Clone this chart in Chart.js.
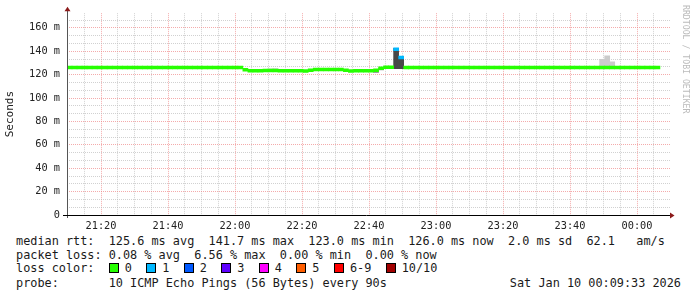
<!DOCTYPE html>
<html>
<head>
<meta charset="utf-8">
<script src="https://cdn.jsdelivr.net/npm/chart.js@4.4.1/dist/chart.umd.min.js"></script>
<style>
    html, body { margin: 0; padding: 0; background: #fff; }
    #wrap { position: relative; width: 697px; height: 297px; overflow: hidden; font-family: 'DejaVu Sans Mono', monospace; color: #1a1a1a; }
    #chart { position: absolute; left: 0; top: 0; }
    .row { position: absolute; left: 16px; font-size: 11.85px; line-height: 14px; white-space: pre; }
    .row.loss { display: flex; align-items: center; }
    .box { display: inline-block; width: 8px; height: 8px; border: 1px solid #000; }
    .lbl { margin-left: 6px; margin-right: 14.4px; }
    #date { position: absolute; right: 16px; top: 276px; font-size: 11.85px; line-height: 14px; white-space: pre; }
    #mark { position: absolute; left: 681px; top: 5px; writing-mode: vertical-rl; font-size: 8.2px; color: #bbb; white-space: pre; }
</style>
</head>
<body>
<div id="wrap">
    <canvas id="chart" width="697" height="232"></canvas>
    <div class="row" style="top:234px">median rtt:  125.6 ms avg  141.7 ms max  123.0 ms min  126.0 ms now  2.0 ms sd  62.1   am/s</div>
    <div class="row" style="top:248px">packet loss: 0.08 % avg  6.56 % max  0.00 % min  0.00 % now</div>
    <div class="row loss" id="loss-legend" style="top:261px"><span>loss color:  </span></div>
    <div class="row" style="top:276px">probe:       10 ICMP Echo Pings (56 Bytes) every 90s</div>
    <div id="date">Sat Jan 10 00:09:33 2026</div>
    <div id="mark">RRDTOOL / TOBI OETIKER</div>
</div>
<script>
// time axis: minutes since midnight, one sample every 90s
const startMinute = 21 * 60 + 9.85
const endMinute = startMinute + 180
const stepMinutes = 1.5

// median rtt per 90s step (ms)
const median = [
    126.0, 126.0, 126.0, 126.0, 126.0, 126.0, 126.0, 126.0, 126.0, 126.0,
    126.0, 126.0, 126.0, 126.0, 126.0, 126.0, 126.0, 126.0, 126.0, 126.0,
    126.0, 126.0, 126.0, 126.0, 126.0, 126.0, 126.0, 126.0, 126.0, 126.0,
    126.0, 126.0, 126.0, 126.0, 126.0, 124.2, 123.3, 123.3, 123.3, 123.5,
    123.5, 123.5, 123.3, 123.3, 123.3, 123.3, 123.3, 123.0, 123.8, 124.4,
    124.4, 124.4, 124.4, 124.4, 124.4, 123.8, 123.0, 123.3, 123.3, 123.3,
    123.3, 123.8, 125.5, 126.2, 126.2, 141.7, 134.6, 126.0, 126.0, 126.0,
    126.0, 126.0, 126.0, 126.0, 126.0, 126.0, 126.0, 126.0, 126.0, 126.0,
    126.0, 126.0, 126.0, 126.0, 126.0, 126.0, 126.0, 126.0, 126.0, 126.0,
    126.0, 126.0, 126.0, 126.0, 126.0, 126.0, 126.0, 126.0, 126.0, 126.0,
    126.0, 126.0, 126.0, 126.0, 126.0, 126.0, 126.0, 126.0, 126.0, 126.0,
    126.0, 126.0, 126.0, 126.0, 126.0, 126.0, 126.0, 126.0,
]

// steps with lost packets (count out of 10)
const lossSteps = [65, 66]
const lossCounts = [1, 1]

// smoke (spread of the 10 pings) where it shows past the median line
const lightSmokeSteps = [40, 41, 47, 58, 59, 106, 107, 108]
const lightSmokeLow = [123.0, 123.0, 122.4, 122.6, 122.6, 125.0, 125.0, 125.0]
const lightSmokeHigh = [125.0, 125.2, 123.6, 124.5, 124.5, 133.0, 136.0, 131.0]

const midSmokeSteps = [61, 62]
const midSmokeLow = [121.6, 124.0]
const midSmokeHigh = [123.6, 125.2]

const darkSmokeSteps = [65, 66]
const darkSmokeLow = [125.0, 125.0]
const darkSmokeHigh = [142.4, 135.4]

// loss color legend
const lossLabels = ['0', '1', '2', '3', '4', '5', '6-9', '10/10']
const lossColors = ['#26ff00', '#00b8ff', '#0059ff', '#5e00ff', '#ff00ff', '#ff5e00', '#ff0000', '#a10000']

const yMax = 172.5
const minorY = 20 / 3
const minorX = 5
const medianHalf = 1.2
const font = 'DejaVu Sans Mono'
const majorGrid = 'rgba(240,135,135,0.7)'
const minorGrid = 'rgba(185,185,185,0.65)'

const stepTime = i => startMinute + stepMinutes * (i + 0.5)
const isMult = (v, s) => Math.abs(v / s - Math.round(v / s)) < 1e-6

const lossColorFor = i => {
    const k = lossSteps.indexOf(i)
    if (k < 0) return lossColors[0]
    const n = lossCounts[k]
    if (n >= 10) return lossColors[7]
    if (n >= 6) return lossColors[6]
    return lossColors[n]
}

const smokeData = (steps, lo, hi) => steps.map((s, i) => ({ x: stepTime(s), y: [lo[i], hi[i]] }))

// legend boxes
const legendEl = document.getElementById('loss-legend')
lossLabels.forEach((label, i) => {
    legendEl.innerHTML += `<span class="box" style="background:${lossColors[i]}"></span><span class="lbl">${label}</span>`
})

const axisArrows = {
    id: 'axisArrows',
    afterDraw(chart) {
        const { ctx, chartArea: a } = chart
        ctx.save()
        ctx.lineWidth = 1
        ctx.strokeStyle = '#555'
        ctx.beginPath()
        ctx.moveTo(a.left + 0.5, a.bottom + 3)
        ctx.lineTo(a.left + 0.5, a.top - 3)
        ctx.stroke()
        ctx.strokeStyle = '#000'
        ctx.beginPath()
        ctx.moveTo(a.left - 4, a.bottom + 0.5)
        ctx.lineTo(a.right, a.bottom + 0.5)
        ctx.stroke()
        ctx.fillStyle = '#8b1a1a'
        ctx.beginPath()
        ctx.moveTo(a.right, a.bottom - 2.5)
        ctx.lineTo(a.right + 4.5, a.bottom + 0.5)
        ctx.lineTo(a.right, a.bottom + 3.5)
        ctx.fill()
        ctx.beginPath()
        ctx.moveTo(a.left - 2.5, a.top - 2)
        ctx.lineTo(a.left + 0.5, a.top - 6.5)
        ctx.lineTo(a.left + 3.5, a.top - 2)
        ctx.fill()
        ctx.restore()
    },
}

const barBase = {
    type: 'bar',
    grouped: false,
    borderWidth: 0,
    barPercentage: 1,
    categoryPercentage: 1,
}

const chartCtx = document.getElementById('chart').getContext('2d')

const chart = new Chart(chartCtx, {
    type: 'bar',
    data: {
        datasets: [
            {
                ...barBase,
                label: 'median',
                order: 0,
                data: median.map((m, i) => ({ x: stepTime(i), y: [m - medianHalf, m + medianHalf] })),
                backgroundColor: median.map((m, i) => lossColorFor(i)),
            },
            {
                ...barBase,
                label: 'smoke dark',
                order: 1,
                data: smokeData(darkSmokeSteps, darkSmokeLow, darkSmokeHigh),
                backgroundColor: '#484848',
            },
            {
                ...barBase,
                label: 'smoke mid',
                order: 2,
                data: smokeData(midSmokeSteps, midSmokeLow, midSmokeHigh),
                backgroundColor: '#9c9c9c',
            },
            {
                ...barBase,
                label: 'smoke light',
                order: 3,
                data: smokeData(lightSmokeSteps, lightSmokeLow, lightSmokeHigh),
                backgroundColor: '#cbcbcb',
            },
        ],
    },
    options: {
        responsive: false,
        devicePixelRatio: 1,
        animation: false,
        layout: { padding: { top: 12.5, right: 27, left: 0, bottom: 0 } },
        plugins: {
            legend: { display: false },
            tooltip: { enabled: false },
        },
        scales: {
            x: {
                type: 'linear',
                min: startMinute,
                max: endMinute,
                offset: false,
                afterBuildTicks: s => {
                    const ticks = []
                    for (let k = Math.ceil(startMinute / minorX); k * minorX <= endMinute; k++) {
                        ticks.push({ value: k * minorX })
                    }
                    s.ticks = ticks
                },
                grid: {
                    offset: false,
                    drawTicks: false,
                    color: c => {
                        const v = c.tick.value
                        if (isMult(v, 20)) return majorGrid
                        if (isMult(v, minorX)) return minorGrid
                        return 'rgba(0,0,0,0)'
                    },
                },
                border: { display: false, dash: [1, 1] },
                ticks: {
                    autoSkip: false,
                    maxRotation: 0,
                    padding: 5,
                    color: '#222',
                    font: { family: font, size: 10.3 },
                    callback: v => {
                        if (!isMult(v, 20)) return ''
                        const mins = Math.round(v)
                        const h = Math.floor(mins / 60) % 24
                        const m = mins % 60
                        return String(h).padStart(2, '0') + ':' + String(m).padStart(2, '0')
                    },
                },
                afterFit: s => { s.height = 17 },
            },
            y: {
                min: 0,
                max: yMax,
                afterBuildTicks: s => {
                    const ticks = []
                    for (let k = 0; k * minorY <= yMax; k++) {
                        ticks.push({ value: k * 20 / 3 })
                    }
                    s.ticks = ticks
                },
                grid: {
                    drawTicks: false,
                    color: c => {
                        const v = c.tick.value
                        if (v === 0) return 'rgba(0,0,0,0)'
                        if (isMult(v, 20)) return majorGrid
                        return minorGrid
                    },
                },
                border: { display: false, dash: [1, 1] },
                ticks: {
                    autoSkip: false,
                    padding: 7,
                    color: '#222',
                    font: { family: font, size: 10.3 },
                    callback: v => {
                        if (!isMult(v, 20)) return ''
                        const r = Math.round(v)
                        return r === 0 ? '0' : r + ' m'
                    },
                },
                title: {
                    display: true,
                    text: 'Seconds',
                    color: '#222',
                    font: { family: font, size: 11 },
                    padding: { top: 4, bottom: 0 },
                },
                afterFit: s => { s.width = 67 },
            },
        },
    },
    plugins: [axisArrows],
})
</script>
</body>
</html>
